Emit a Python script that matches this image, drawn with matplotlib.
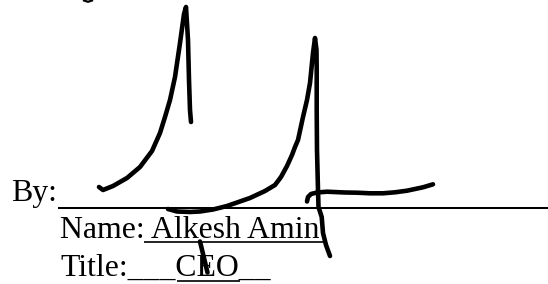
import matplotlib
matplotlib.use("Agg")
import matplotlib.pyplot as plt

# Signature strokes (pixel coordinates, y grows downward)
stroke1_x = [99, 103, 113, 127, 140, 152, 160, 165, 170, 175, 180, 184, 186, 188, 189, 190, 191]
stroke1_y = [187, 190, 186, 178, 167, 151, 133, 117, 100, 77, 43, 14, 7, 40, 80, 110, 122]

stroke2_x = [168, 177, 190, 200, 213, 227, 250, 265, 275, 281, 287, 292, 295, 298, 303, 307, 310, 313, 315,
             316.5, 316.7, 316.7, 317, 318, 318.5, 321.7, 323, 326, 330]
stroke2_y = [209, 211.5, 212, 211.5, 209.5, 206, 198, 191, 185, 177, 166, 155, 147, 140, 117, 100, 83, 53, 38,
             50, 70, 110, 150, 190, 207, 217, 233, 245, 256]

stroke3_x = [307, 308, 311, 317, 327, 345, 357, 370, 383, 395, 407, 423, 433]
stroke3_y = [201.5, 197, 194, 192.5, 191.7, 192.5, 192.7, 193.3, 193.3, 192.3, 190.7, 187.3, 184.3]

stroke4_x = [200, 207.5]
stroke4_y = [241.5, 272.5]

# tail of a letter from the line above, cut off by the crop
crumb_x = [84, 88, 92]
crumb_y = [0.5, 1.8, 0.5]

strokes = [(stroke1_x, stroke1_y), (stroke2_x, stroke2_y),
           (stroke3_x, stroke3_y), (stroke4_x, stroke4_y)]

by_label = "By:"
name_label = "Name: Alkesh Amin"
title_label = "Title:___CEO__"

fig = plt.figure(figsize=(5.48, 2.84), dpi=100)
ax = fig.add_axes([0, 0, 1, 1])
ax.set_xlim(0, 548)
ax.set_ylim(284, 0)
ax.axis("off")

font = dict(family="Liberation Serif", size=22.9, color="black", va="baseline", ha="left")

# printed form text
ax.text(11, 201, by_label, **font)
ax.text(59.5, 238.3, name_label, **font)
ax.text(60.5, 276, title_label, **font)

# signature line and underlines
ax.plot([58, 548], [207.7, 207.7], color="black", lw=1.45, solid_capstyle="butt")
ax.plot([144, 323], [241.5, 241.5], color="black", lw=1.2, solid_capstyle="butt")
ax.plot([177, 240], [280.8, 280.8], color="black", lw=1.2, solid_capstyle="butt")
ax.plot(crumb_x, crumb_y, color="black", lw=1.6)

# handwritten signature
for xs, ys in strokes:
    ax.plot(xs, ys, color="black", lw=3.3, solid_capstyle="round", solid_joinstyle="round")

fig.savefig("out.png", dpi=100)
